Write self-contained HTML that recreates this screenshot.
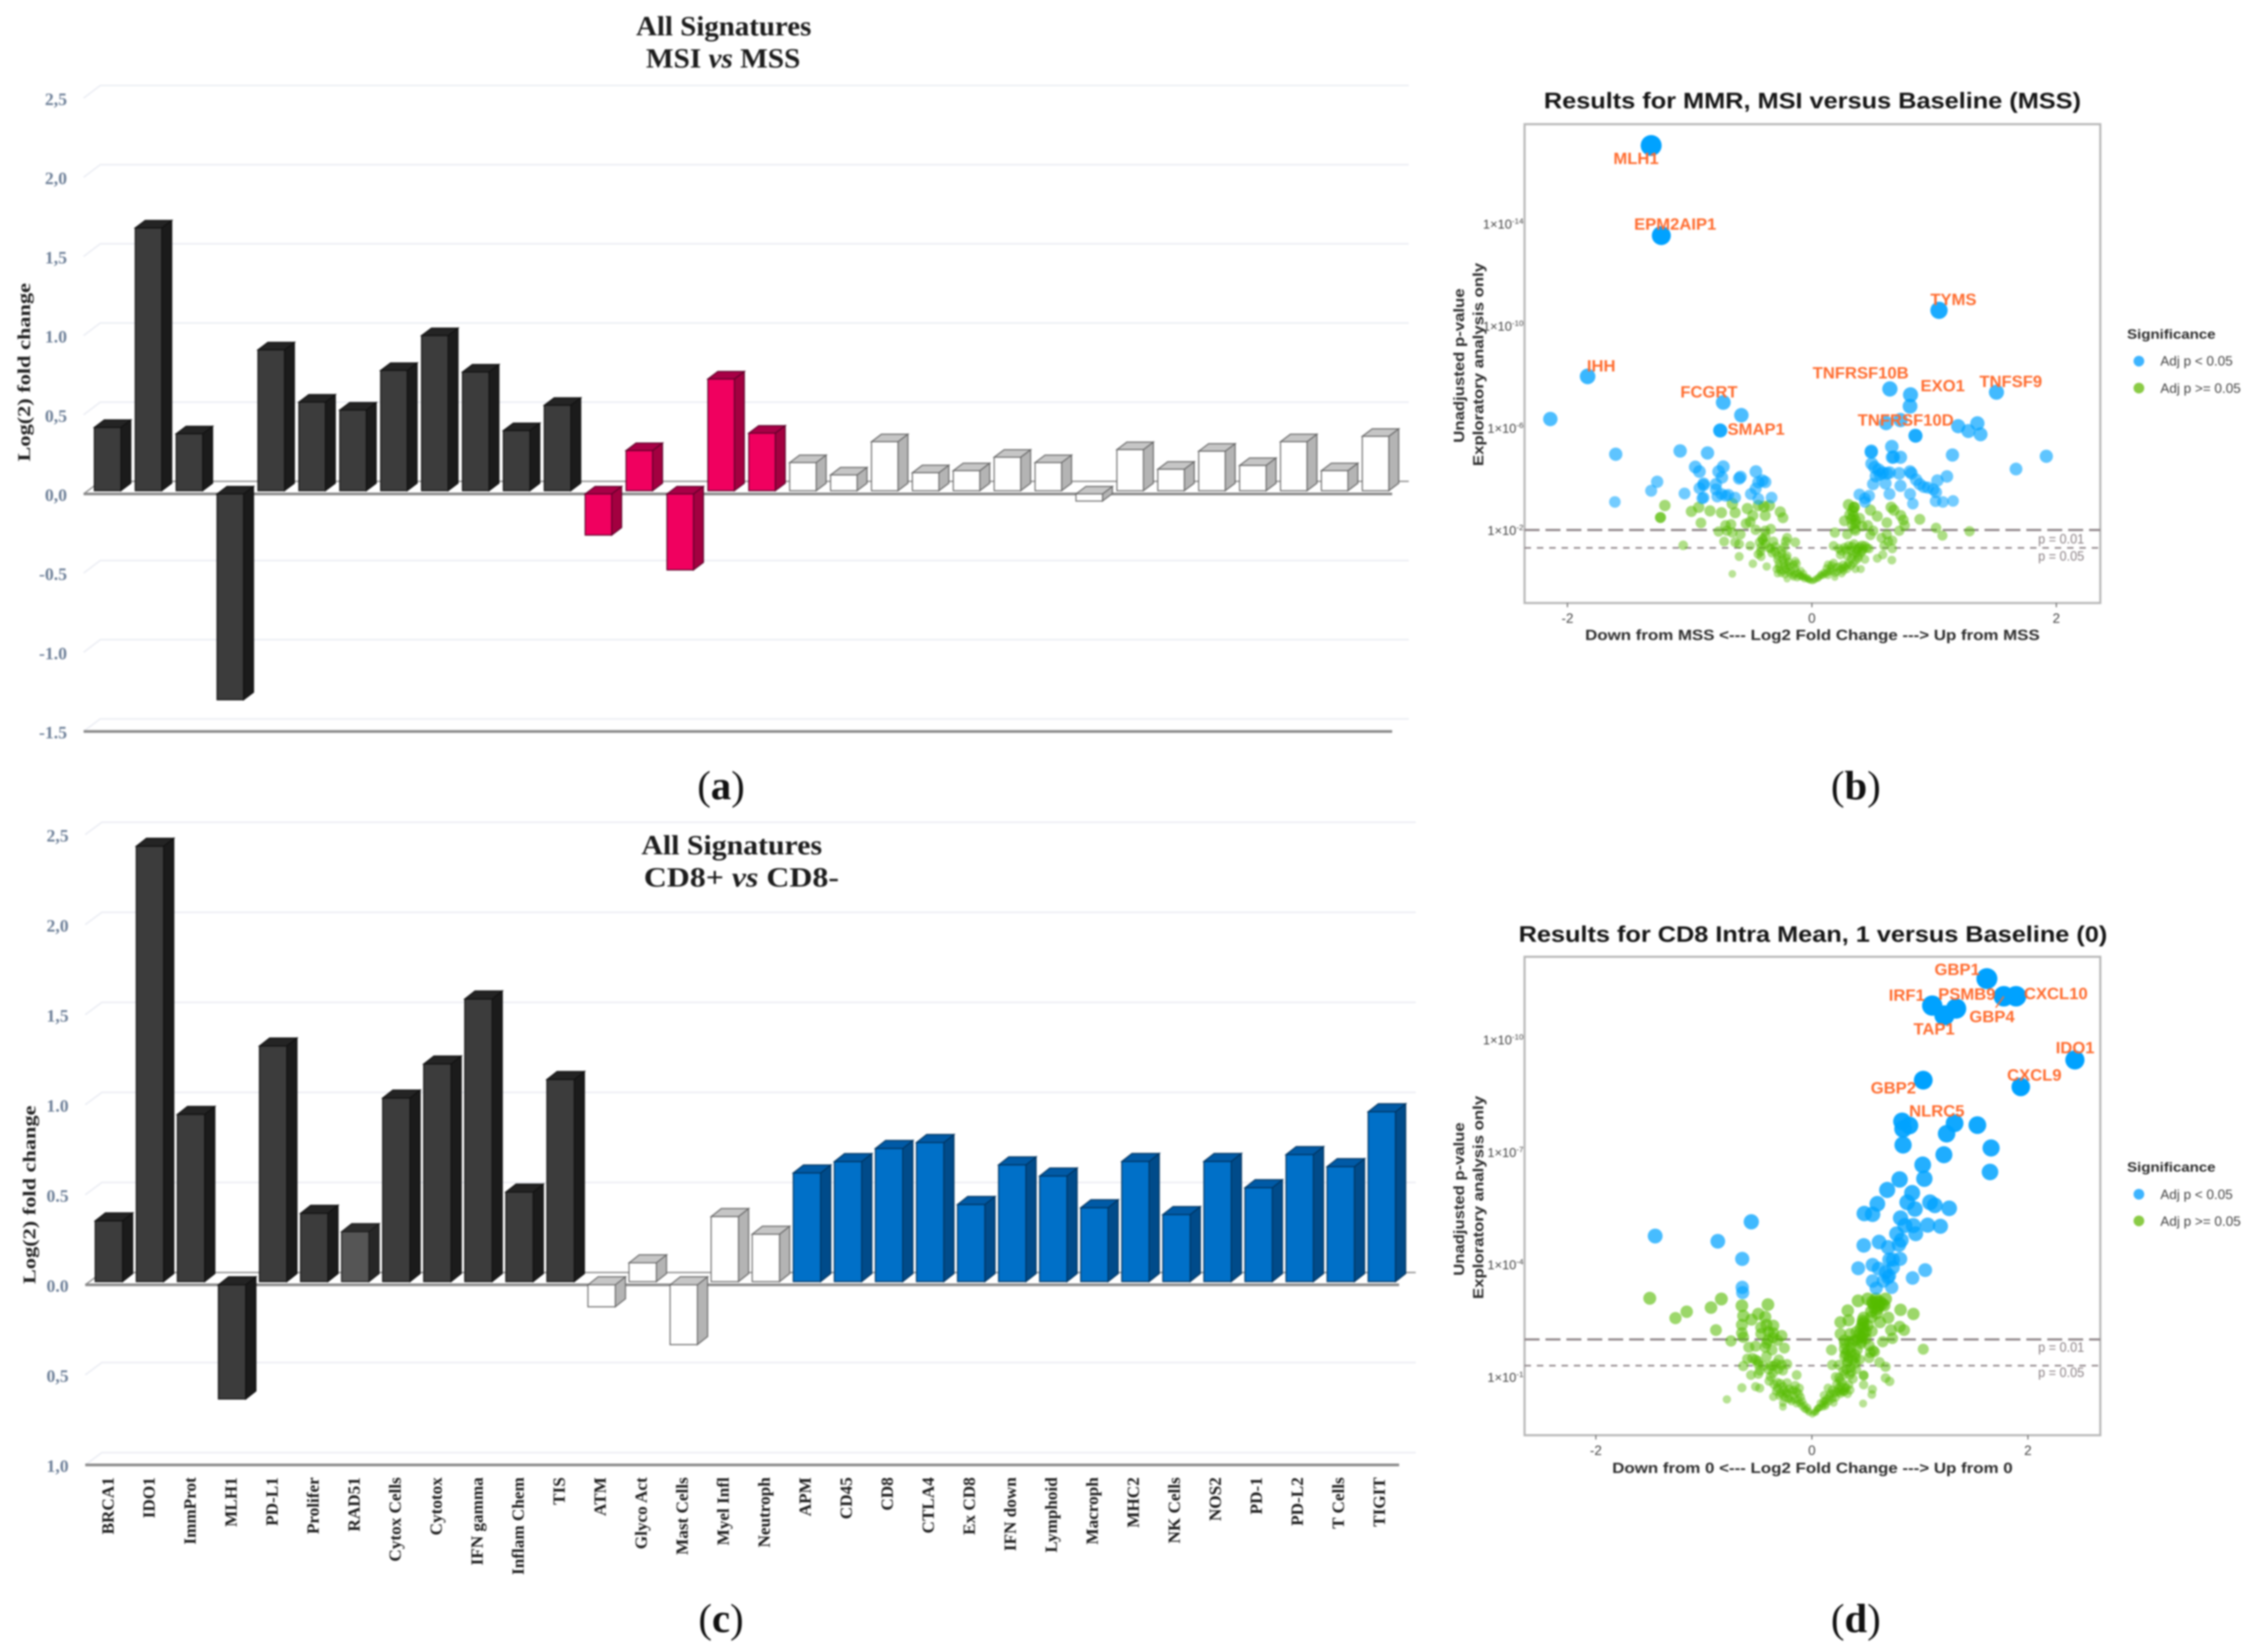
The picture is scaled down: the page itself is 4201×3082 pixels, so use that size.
<!DOCTYPE html>
<html lang="en">
<head>
<meta charset="utf-8">
<title>Signature fold change and volcano plots</title>
<style>
html,body{margin:0;padding:0;background:#fff;}
svg{display:block;filter:blur(1.5px);}
.serif{font-family:"Liberation Serif",serif;}
.sans{font-family:"Liberation Sans",sans-serif;}
.bar-title{font-family:"Liberation Serif",serif;font-weight:bold;font-size:52px;fill:#1c1c1c;text-anchor:middle;}
.panel-label{font-family:"Liberation Serif",serif;font-size:76px;fill:#111;text-anchor:middle;}
.y-title{font-family:"Liberation Serif",serif;font-weight:bold;font-size:34px;fill:#222;text-anchor:middle;}
.v-title{font-family:"Liberation Sans",sans-serif;font-weight:bold;font-size:42px;fill:#151515;text-anchor:middle;}
.v-axis{font-family:"Liberation Sans",sans-serif;font-weight:bold;font-size:28px;fill:#2c2c2c;text-anchor:middle;}
.v-gene{font-family:"Liberation Sans",sans-serif;font-weight:bold;font-size:31px;fill:#ff6c2f;text-anchor:middle;}
.v-legend{font-family:"Liberation Sans",sans-serif;font-size:25px;fill:#444;}
.v-legend-title{font-family:"Liberation Sans",sans-serif;font-weight:bold;font-size:25px;fill:#2c2c2c;}
.v-p{font-family:"Liberation Sans",sans-serif;font-size:25px;fill:#8a8084;}
</style>
</head>
<body>
<svg id="figure" xmlns="http://www.w3.org/2000/svg" width="4201" height="3082" viewBox="0 0 4201 3082">
  <rect x="0" y="0" width="4201" height="3082" fill="#ffffff"/>

  <g id="panel-a">
    <text class="bar-title" x="1350" y="66" textLength="327" lengthAdjust="spacingAndGlyphs">All Signatures</text>
    <text class="bar-title" x="1349" y="126" textLength="288" lengthAdjust="spacingAndGlyphs">MSI <tspan font-style="italic">vs</tspan> MSS</text>
    <text class="y-title" transform="translate(56 694.5) rotate(-90)" textLength="333" lengthAdjust="spacingAndGlyphs">Log(2) fold change</text>
  </g>
  <text class="panel-label" x="1345" y="1491">(<tspan font-weight="bold">a</tspan>)</text>

  <g id="panel-c">
    <text class="bar-title" x="1365" y="1594" textLength="337" lengthAdjust="spacingAndGlyphs">All Signatures</text>
    <text class="bar-title" x="1383" y="1654" textLength="364" lengthAdjust="spacingAndGlyphs">CD8+ <tspan font-style="italic">vs</tspan> CD8-</text>
    <text class="y-title" transform="translate(66 2229) rotate(-90)" textLength="333" lengthAdjust="spacingAndGlyphs">Log(2) fold change</text>
  </g>
  <text class="panel-label" x="1345" y="3045">(<tspan font-weight="bold">c</tspan>)</text>

  <g id="panel-b">
    <text class="v-title" x="3381" y="202" textLength="1002" lengthAdjust="spacingAndGlyphs">Results for MMR, MSI versus Baseline (MSS)</text>
    <text class="v-axis" transform="translate(2731 682) rotate(-90)" textLength="288" lengthAdjust="spacingAndGlyphs">Unadjusted p-value</text>
    <text class="v-axis" transform="translate(2767 680) rotate(-90)" textLength="379" lengthAdjust="spacingAndGlyphs">Exploratory analysis only</text>
    <text class="v-axis" x="3381" y="1194" textLength="848" lengthAdjust="spacingAndGlyphs">Down from MSS &lt;--- Log2 Fold Change ---&gt; Up from MSS</text>
    <text class="v-legend-title" x="3968" y="632" textLength="165" lengthAdjust="spacingAndGlyphs">Significance</text>
    <circle cx="3990" cy="673.7" r="10" fill="#3db4ff"/>
    <text class="v-legend" x="4030" y="682" textLength="135" lengthAdjust="spacingAndGlyphs">Adj p &lt; 0.05</text>
    <circle cx="3990" cy="724" r="10" fill="#8acb45"/>
    <text class="v-legend" x="4030" y="733" textLength="150" lengthAdjust="spacingAndGlyphs">Adj p &gt;= 0.05</text>
    <g id="panel-b-marks"></g>
    <text class="v-p" x="3802" y="1014" textLength="86" lengthAdjust="spacingAndGlyphs">p = 0.01</text>
    <text class="v-p" x="3802" y="1046" textLength="86" lengthAdjust="spacingAndGlyphs">p = 0.05</text>
    <text class="v-gene" x="3052" y="306">MLH1</text>
    <text class="v-gene" x="3125" y="428.6">EPM2AIP1</text>
    <text class="v-gene" x="3644" y="569">TYMS</text>
    <text class="v-gene" x="2987" y="693">IHH</text>
    <text class="v-gene" x="3188" y="741.5">FCGRT</text>
    <text class="v-gene" x="3276" y="811">SMAP1</text>
    <text class="v-gene" x="3471" y="706">TNFRSF10B</text>
    <text class="v-gene" x="3624" y="730">EXO1</text>
    <text class="v-gene" x="3751" y="722">TNFSF9</text>
    <text class="v-gene" x="3555" y="794">TNFRSF10D</text>
  </g>
  <text class="panel-label" x="3462" y="1491">(<tspan font-weight="bold">b</tspan>)</text>

  <g id="panel-d">
    <text class="v-title" x="3382" y="1757" textLength="1098" lengthAdjust="spacingAndGlyphs">Results for CD8 Intra Mean, 1 versus Baseline (0)</text>
    <text class="v-axis" transform="translate(2731 2237) rotate(-90)" textLength="286" lengthAdjust="spacingAndGlyphs">Unadjusted p-value</text>
    <text class="v-axis" transform="translate(2767 2234) rotate(-90)" textLength="379" lengthAdjust="spacingAndGlyphs">Exploratory analysis only</text>
    <text class="v-axis" x="3381" y="2748" textLength="747" lengthAdjust="spacingAndGlyphs">Down from 0 &lt;--- Log2 Fold Change ---&gt; Up from 0</text>
    <text class="v-legend-title" x="3968" y="2186" textLength="165" lengthAdjust="spacingAndGlyphs">Significance</text>
    <circle cx="3990" cy="2228" r="10" fill="#3db4ff"/>
    <text class="v-legend" x="4030" y="2237" textLength="135" lengthAdjust="spacingAndGlyphs">Adj p &lt; 0.05</text>
    <circle cx="3990" cy="2277.7" r="10" fill="#8acb45"/>
    <text class="v-legend" x="4030" y="2287" textLength="150" lengthAdjust="spacingAndGlyphs">Adj p &gt;= 0.05</text>
    <g id="panel-d-marks"></g>
    <text class="v-p" x="3802" y="2522" textLength="86" lengthAdjust="spacingAndGlyphs">p = 0.01</text>
    <text class="v-p" x="3802" y="2569" textLength="86" lengthAdjust="spacingAndGlyphs">p = 0.05</text>
    <line x1="3723" y1="1880" x2="3738" y2="1859" stroke="#ff6c2f" stroke-width="2.5"/>
    <text class="v-gene" x="3651" y="1819">GBP1</text>
    <text class="v-gene" x="3557" y="1867">IRF1</text>
    <text class="v-gene" x="3669" y="1865">PSMB9</text>
    <text class="v-gene" x="3835" y="1864">CXCL10</text>
    <text class="v-gene" x="3716" y="1907">GBP4</text>
    <text class="v-gene" x="3608" y="1930">TAP1</text>
    <text class="v-gene" x="3871" y="1965">IDO1</text>
    <text class="v-gene" x="3795" y="2016">CXCL9</text>
    <text class="v-gene" x="3532" y="2040">GBP2</text>
    <text class="v-gene" x="3613" y="2083">NLRC5</text>
  </g>
  <text class="panel-label" x="3462" y="3045">(<tspan font-weight="bold">d</tspan>)</text>
</svg>

<script>
// ---------- Bar chart data ----------
const signatureCategories = ['BRCA1','IDO1','ImmProt','MLH1','PD-L1','Prolifer','RAD51','Cytox Cells','Cytotox','IFN gamma','Inflam Chem','TIS','ATM','Glyco Act','Mast Cells','Myel Infl','Neutroph','APM','CD45','CD8','CTLA4','Ex CD8','IFN down','Lymphoid','Macroph','MHC2','NK Cells','NOS2','PD-1','PD-L2','T Cells','TIGIT'];
const msiFoldChange = [0.42,1.68,0.38,-1.30,0.91,0.58,0.53,0.78,1.00,0.77,0.40,0.56,-0.26,0.274,-0.48,0.726,0.384,0.198,0.12,0.33,0.134,0.147,0.232,0.198,-0.045,0.28,0.156,0.27,0.18,0.33,0.147,0.364];
const cd8FoldChange = [0.355,2.435,0.946,-0.634,1.326,0.397,0.295,1.037,1.226,1.587,0.515,1.14,-0.122,0.122,-0.332,0.379,0.281,0.621,0.684,0.757,0.79,0.446,0.666,0.604,0.428,0.685,0.39,0.685,0.539,0.723,0.656,0.961];
const msiTickValues = [2.5,2,1.5,1,0.5,0,-0.5,-1,-1.5];
const msiTickLabels = ['2,5','2,0','1,5','1.0','0,5','0,0','-0.5','-1.0','-1.5'];
const cd8TickValues = [2.5,2,1.5,1,0.5,0,-0.5,-1];
const cd8TickLabels = ['2,5','2,0','1,5','1.0','0.5','0.0','0,5','1,0'];

// ---------- Volcano data: [log2 fold change, -log10 p] ----------
const mmrSignificant = [[-1.315,17.07],[-1.315,17.07],[-1.232,13.54],[1.04,10.61],[-1.835,8.02],[-2.14,6.35],[-0.725,7.0],[-0.577,6.5],[-0.75,5.9],[-0.75,5.9],[0.638,7.53],[0.807,7.3],[0.803,6.85],[1.51,7.4],[0.607,6.19],[0.725,6.31],[0.846,5.7],[1.197,6.07],[1.354,6.18],[1.28,5.88],[1.38,5.75],[-1.605,4.97],[-1.078,5.1],[-0.854,5.02],[1.918,4.89],[1.67,4.39],[1.15,4.94],[-0.954,4.47],[-0.92,4.29],[-0.725,4.48],[-0.763,4.29],[-0.736,4.06],[-0.458,4.29],[-0.584,4.08],[-0.595,4.02],[-0.405,3.94],[-0.438,3.87],[-0.382,3.88],[-1.266,3.89],[-1.315,3.54],[-1.042,3.43],[-1.612,3.1],[-0.886,3.76],[-0.886,3.82],[-0.919,3.64],[-0.785,3.8],[-0.785,3.59],[-0.886,3.27],[-0.897,3.24],[-0.774,3.31],[-0.74,3.41],[-0.706,3.34],[-0.684,3.38],[-0.628,3.27],[-0.499,3.41],[-0.46,3.62],[-0.438,3.22],[-0.33,3.27],[0.486,5.09],[0.486,5.05],[0.654,5.27],[0.658,4.85],[0.668,4.86],[0.725,4.85],[0.849,5.69],[0.49,4.6],[0.513,4.46],[0.546,4.36],[0.58,4.25],[0.613,4.22],[0.635,4.25],[0.557,4.18],[0.524,4.11],[0.501,3.8],[0.602,3.83],[0.725,3.73],[0.714,4.22],[0.803,4.29],[0.815,4.22],[0.853,3.97],[0.882,3.8],[0.915,3.69],[0.949,3.66],[0.994,3.59],[1.027,3.94],[1.105,4.1],[1.016,3.48],[0.635,3.41],[0.803,3.41],[0.826,3.03],[1.012,3.13],[1.072,3.1],[1.155,3.14],[0.389,3.39],[0.434,3.24],[0.468,3.34],[0.434,3.1]];
const mmrNotSignificant = [[-1.203,2.96],[-1.239,2.49],[-1.239,2.49],[-0.986,2.73],[-0.926,2.89],[-0.834,2.75],[-0.908,2.28],[-0.74,2.68],[-0.651,3.03],[-0.628,2.68],[-0.528,2.84],[-0.438,2.96],[-0.393,2.92],[-0.348,2.96],[-0.259,2.71],[-0.237,2.48],[-0.382,2.57],[-0.483,2.57],[-0.662,2.22],[-0.707,2.18],[-0.539,2.25],[-0.505,2.32],[-0.763,1.94],[-0.695,1.97],[-0.651,1.9],[-0.46,2.01],[-0.337,2.04],[-0.382,1.97],[-0.584,1.83],[-0.718,1.55],[-0.628,1.52],[-0.595,1.45],[-1.053,1.4],[-0.405,1.66],[-0.427,1.52],[-0.315,1.55],[-0.203,1.69],[-0.136,1.52],[-0.214,1.55],[-0.505,1.38],[-0.416,1.31],[-0.337,1.27],[-0.225,1.34],[-0.595,0.96],[-0.483,0.68],[-0.416,0.96],[-0.37,0.57],[-0.651,0.28],[-0.326,1.1],[-0.247,1.06],[-0.281,0.85],[-0.203,0.99],[-0.136,0.78],[-0.27,0.54],[-0.225,0.57],[-0.181,0.57],[-0.136,0.5],[-0.091,0.4],[-0.069,0.29],[-0.035,0.08],[-0.281,0.29],[-0.203,0.08],[-0.158,0.22],[-0.102,0.19],[-0.236,0.4],[-0.192,0.36],[-0.125,0.68],[-0.08,0.15],[0.005,0],[-0.013,0.02],[0.02,0.03],[0.054,0.15],[0.099,0.33],[0.132,0.64],[0.177,0.71],[0.221,0.57],[0.255,0.64],[0.3,0.71],[0.322,0.89],[0.132,0.22],[0.188,0.15],[0.244,0.29],[0.356,0.47],[0.4,0.47],[0.155,0.5],[0.076,0.26],[0.289,0.47],[0.177,1.38],[0.221,1.27],[0.266,1.31],[0.3,1.38],[0.345,1.45],[0.39,1.34],[0.434,1.38],[0.468,1.27],[0.322,1.2],[0.367,1.24],[0.412,1.17],[0.334,1.03],[0.289,0.99],[0.434,0.85],[0.535,0.89],[0.58,1.03],[0.654,0.82],[0.233,1.03],[0.378,0.99],[0.188,1.9],[0.289,1.83],[0.266,2.36],[0.3,2.99],[0.345,2.89],[0.345,2.89],[0.334,2.75],[0.356,2.39],[0.322,2.43],[0.39,2.46],[0.356,2.25],[0.479,2.78],[0.535,2.54],[0.649,2.89],[0.671,2.78],[0.727,2.57],[0.748,2.39],[0.759,2.18],[0.883,2.42],[0.613,2.29],[0.457,2.18],[0.479,1.8],[0.613,1.83],[0.625,1.55],[0.658,1.59],[1.016,2.08],[1.068,1.78],[1.29,1.95],[0.356,1.97],[0.412,2.15],[0.569,1.69],[0.715,1.97],[0.502,1.97],[0.591,1.38],[0.658,1.27],
[-0.29,0.47],[-0.26,0.43],[-0.21,0.47],[-0.17,0.4],[-0.125,0.36],[-0.25,0.3],[-0.22,0.25],[-0.18,0.3],[-0.14,0.27],[-0.11,0.3],[-0.15,0.15],[-0.12,0.12],[-0.09,0.22],[-0.07,0.18],[-0.05,0.15],[-0.06,0.08],[-0.03,0.12],[-0.025,0.05],[-0.2,0.62],[-0.23,0.72],[-0.19,0.75],[-0.24,0.85],[-0.21,0.9],[-0.27,0.68],[-0.15,0.65],[-0.28,1.0],[-0.3,1.15],[-0.35,1.3],[-0.38,1.45],[-0.4,1.6],[-0.38,1.75],[-0.42,1.15],[-0.44,1.05],[-0.3,1.35],[-0.25,1.2],
[0.03,0.08],[0.05,0.1],[0.07,0.2],[0.09,0.22],[0.11,0.28],[0.13,0.35],[0.15,0.38],[0.17,0.4],[0.19,0.3],[0.21,0.36],[0.23,0.45],[0.25,0.5],[0.27,0.55],[0.29,0.62],[0.32,0.6],[0.34,0.7],[0.2,0.55],[0.16,0.62],[0.12,0.5],[0.26,0.4],[0.36,0.8],[0.38,0.9],[0.4,1.1],[0.36,1.1],[0.42,1.25],[0.45,1.3],[0.33,1.35],[0.28,1.22],[0.24,1.18],[0.38,1.28],[0.41,1.4],[0.31,2.6],[0.33,2.2],[0.35,2.05],[0.34,2.55]];
const cd8Significant = [[1.62,11.63],[1.62,11.63],[1.89,11.16],[1.777,11.16],[1.335,10.83],[1.114,10.91],[1.227,10.65],[2.435,9.46],[1.934,8.74],[1.031,8.92],[0.835,7.82],[0.903,7.71],[0.844,7.62],[0.844,7.19],[1.321,7.77],[1.532,7.72],[1.247,7.49],[1.659,7.11],[1.222,6.93],[1.649,6.47],[1.026,6.66],[1.041,6.29],[0.812,6.27],[0.697,5.99],[0.606,5.62],[0.485,5.36],[0.562,5.34],[0.928,5.91],[0.883,5.66],[0.954,5.48],[1.094,5.66],[1.138,5.58],[1.271,5.5],[0.821,5.24],[0.861,5.04],[0.939,5.04],[1.072,5.05],[1.19,5.02],[0.784,4.82],[0.961,4.82],[0.806,4.53],[0.828,4.65],[0.48,4.51],[0.622,4.6],[0.706,4.46],[0.429,3.9],[0.562,3.99],[0.618,3.89],[0.75,4.13],[0.817,4.15],[0.717,4.13],[0.75,3.92],[0.684,3.8],[0.562,3.56],[0.662,3.56],[0.739,3.39],[0.595,3.37],[1.049,3.85],[0.932,3.64],[-1.451,4.76],[-0.871,4.62],[-0.561,5.14],[-0.645,4.15],[-0.645,3.39],[-0.641,3.25],[0.706,3.65],[0.717,3.7]];
const cd8NotSignificant = [[-1.501,3.1],[-1.159,2.74],[-1.263,2.57],[-0.934,2.85],[-0.838,3.08],[-0.888,2.25],[-0.749,1.96],[-0.648,2.9],[-0.407,2.93],[-0.635,2.63],[-0.496,2.68],[-0.559,2.53],[-0.432,2.6],[-0.648,2.39],[-0.42,2.39],[-0.357,2.37],[-0.648,2.17],[-0.635,2.06],[-0.47,2.32],[-0.47,2.15],[-0.357,2.17],[-0.28,2.1],[-0.407,1.98],[-0.319,1.98],[-0.255,1.77],[-0.584,1.79],[-0.521,1.82],[-0.432,1.79],[-0.369,1.72],[-0.42,1.55],[-0.597,1.48],[-0.521,1.46],[-0.496,1.34],[-0.635,1.29],[-0.306,1.46],[-0.23,1.34],[-0.357,1.29],[-0.483,1.17],[-0.564,1.05],[-0.496,1.08],[-0.382,1.01],[-0.268,1.17],[-0.141,1.05],[-0.395,0.89],[-0.521,0.74],[-0.648,0.71],[-0.483,0.7],[-0.787,0.4],[-0.357,0.47],[-0.268,0.2],[-0.268,0.31],[-0.319,0.7],[-0.268,0.74],[-0.23,0.84],[-0.154,0.77],[-0.116,0.7],[-0.293,0.58],[-0.23,0.55],[-0.167,0.51],[-0.103,0.46],[-0.205,0.41],[-0.141,0.29],[-0.091,0.22],[-0.053,0.12],[-0.027,0.05],[0.005,0],[0.036,0.05],[0.061,0.17],[0.099,0.27],[0.125,0.36],[0.163,0.48],[0.188,0.65],[0.15,0.7],[0.112,0.51],[0.226,0.6],[0.302,0.62],[0.353,0.65],[0.264,0.74],[0.34,0.79],[0.201,0.31],[0.125,0.22],[0.251,0.98],[0.302,1.08],[0.365,1.13],[0.479,1.05],[0.188,1.32],[0.251,1.32],[0.327,1.36],[0.403,1.36],[0.34,1.51],[0.403,1.51],[0.302,1.55],[0.365,1.65],[0.181,1.72],[0.302,1.89],[0.378,1.94],[0.454,1.89],[0.53,1.84],[0.302,1.98],[0.264,2.15],[0.353,2.15],[0.479,2.17],[0.454,2.08],[0.555,2.22],[0.479,2.58],[0.466,2.41],[0.479,2.32],[0.517,2.37],[0.34,2.51],[0.264,2.46],[0.332,2.77],[0.428,3.03],[0.517,3.08],[0.568,2.96],[0.593,3.08],[0.682,3.08],[0.669,2.91],[0.606,2.82],[0.707,2.58],[0.631,2.46],[0.821,2.79],[0.94,2.68],[0.813,2.34],[0.854,2.25],[0.732,2.25],[0.745,2.03],[0.656,1.94],[0.542,1.65],[0.58,1.67],[0.626,1.39],[0.682,1.27],[1.031,1.74],[0.479,1.03],[0.479,0.79],[0.682,0.97],[0.72,0.88],[0.56,0.67],[0.555,0.53],[0.474,0.29],[0.264,0.55],[0.315,0.7],[0.53,1.51],[0.441,1.46],[0.568,1.7],
[-0.35,0.8],[-0.32,0.85],[-0.29,0.82],[-0.26,0.65],[-0.24,0.6],[-0.21,0.68],[-0.19,0.62],[-0.17,0.65],[-0.14,0.6],[-0.12,0.55],[-0.25,0.45],[-0.22,0.42],[-0.19,0.35],[-0.16,0.4],[-0.13,0.38],[-0.11,0.3],[-0.09,0.35],[-0.07,0.25],[-0.07,0.15],[-0.04,0.18],[-0.03,0.1],[-0.33,0.62],[-0.3,0.5],[-0.27,0.52],[-0.4,1.2],[-0.38,1.3],[-0.33,1.35],[-0.31,1.2],[-0.45,1.3],[-0.5,1.42],[-0.55,1.5],[-0.28,1.32],[-0.36,1.1],[-0.42,1.9],[-0.4,2.2],[-0.36,2.05],
[0.02,0.05],[0.04,0.1],[0.05,0.15],[0.07,0.18],[0.08,0.3],[0.1,0.2],[0.11,0.35],[0.13,0.28],[0.14,0.42],[0.16,0.35],[0.17,0.55],[0.19,0.42],[0.2,0.55],[0.22,0.45],[0.24,0.68],[0.23,0.8],[0.25,0.6],[0.27,0.65],[0.29,0.6],[0.31,0.72],[0.33,0.55],[0.28,0.85],[0.26,0.9],[0.22,1.0],[0.29,1.15],[0.32,1.2],[0.35,1.05],[0.38,0.95],[0.41,1.2],[0.36,1.25],[0.33,1.42],[0.38,1.45],[0.4,1.6],[0.42,1.72],[0.36,1.78],[0.33,1.7],[0.31,1.62],[0.3,1.75],[0.35,1.95],[0.4,1.98],[0.43,2.0],[0.46,1.95],[0.5,2.02],[0.44,2.15],[0.41,2.2],[0.47,2.05],[0.47,2.5],[0.48,2.45],[0.5,2.2],[0.45,2.3],[0.55,2.6],[0.6,2.7],[0.62,2.9],[0.65,2.95],[0.58,2.85],[0.55,2.75],[0.63,3.0],[0.6,3.0],[0.56,3.0]];
const mmrXTicks = [-2,0,2];
const mmrYTicks = [14,10,6,2];
const mmrYTickExponents = ['-14','-10','-6','-2'];
const cd8XTicks = [-2,0,2];
const cd8YTicks = [10,7,4,1];
const cd8YTickExponents = ['-10','-7','-4','-1'];

// ---------- Drawing helpers ----------
const SVG_NS = 'http://www.w3.org/2000/svg';
function make(tag, parent, attrs) {
  const node = document.createElementNS(SVG_NS, tag);
  for (const key in attrs) node.setAttribute(key, attrs[key]);
  parent.appendChild(node);
  return node;
}
const barPalettes = {
  dark:  {front:'#3c3c3c', top:'#242424', side:'#1b1b1b', edge:'#111111'},
  soft:  {front:'#555555', top:'#2e2e2e', side:'#262626', edge:'#1a1a1a'},
  pink:  {front:'#f0005f', top:'#a80046', side:'#a30040', edge:'#5c0028'},
  white: {front:'#ffffff', top:'#c6c6c6', side:'#b4b4b4', edge:'#666666'},
  blue:  {front:'#0070c8', top:'#005aa6', side:'#004b8a', edge:'#00335f'}
};
function drawBarChart(group, cfg, values, tickValues, tickLabels, paletteFor, prefix) {
  const yScale = v => cfg.zero - cfg.unit * v;
  const xBar = i => cfg.firstBar + cfg.pitch * i;
  tickValues.forEach((tick, i) => {
    const front = yScale(tick);
    const back = front - cfg.backOffset;
    const isZero = tick === 0;
    const grid = make('path', group, {d:`M${cfg.left} ${front}L${cfg.left+31} ${back}H${cfg.right+31}`, fill:'none', stroke:isZero?'#8c8c8c':'#eceef4', 'stroke-width':isZero?2.5:3});
    
    
    const label = make('text', group, {x:cfg.labelRight, y:front+13, 'text-anchor':'end', 'font-family':'"Liberation Serif",serif', 'font-weight':'bold', 'font-size':33, fill:'#6f8199'});
    
    
    label.textContent = tickLabels[i];
  });
  const zeroLine = make('line', group, {x1:cfg.left, x2:cfg.right, y1:cfg.zero, y2:cfg.zero, stroke:'#8a8a8a', 'stroke-width':5});
  
  
  const axisLine = make('line', group, {x1:cfg.left, x2:cfg.right, y1:yScale(tickValues[tickValues.length-1]), y2:yScale(tickValues[tickValues.length-1]), stroke:'#8a8a8a', 'stroke-width':5});
  
  
  values.forEach((value, i) => {
    const pal = barPalettes[paletteFor(i)];
    const x = xBar(i), w = cfg.barWidth, dx = cfg.depthX, dy = cfg.depthY;
    const top = value >= 0 ? yScale(value) : cfg.zero;
    const bottom = value >= 0 ? cfg.zero - 6 : yScale(value);
    const bar = make('g', group, {});
    
    
    make('polygon', bar, {points:`${x+w},${top} ${x+w+dx},${top-dy} ${x+w+dx},${bottom-dy} ${x+w},${bottom}`, fill:pal.side, stroke:pal.edge, 'stroke-width':2});
    make('polygon', bar, {points:`${x},${top} ${x+dx},${top-dy} ${x+w+dx},${top-dy} ${x+w},${top}`, fill:pal.top, stroke:pal.edge, 'stroke-width':2});
    make('rect', bar, {x:x, y:top, width:w, height:bottom-top, fill:pal.front, stroke:pal.edge, 'stroke-width':2});
  });
}
function drawVolcano(group, cfg, xTicks, yTicks, exponents, insignificant, significant, prefix) {
  const xScale = v => cfg.x0 + cfg.xUnit * v;
  const yScale = p => cfg.y0 - cfg.yUnit * p;
  const box = make('rect', group, {x:cfg.left, y:cfg.top, width:cfg.right-cfg.left, height:cfg.bottom-cfg.top, fill:'#ffffff', stroke:'#b8b8b8', 'stroke-width':4});
  
  
  xTicks.forEach(t => {
    const mark = make('line', group, {x1:xScale(t), x2:xScale(t), y1:cfg.bottom, y2:cfg.bottom+8, stroke:'#666', 'stroke-width':2});
    
    
    const label = make('text', group, {x:xScale(t), y:cfg.bottom+37, 'text-anchor':'middle', 'font-family':'"Liberation Sans",sans-serif', 'font-size':25, fill:'#444'});
    
    
    label.textContent = t;
  });
  yTicks.forEach((t, i) => {
    const label = make('text', group, {x:cfg.left-2, y:yScale(t)+9, 'text-anchor':'end', 'font-family':'"Liberation Sans",sans-serif', 'font-size':24, fill:'#444'});
    
    
    label.textContent = '1\u00d710';
    const sup = make('tspan', label, {'font-size':15, dy:-9});
    sup.textContent = exponents[i];
  });
  [[2,4,'28 11'],[1.30103,3,'12 11']].forEach(spec => {
    const dash = make('line', group, {x1:cfg.left, x2:cfg.right, y1:yScale(spec[0]), y2:yScale(spec[0]), stroke:'#8f8589', 'stroke-width':spec[1], 'stroke-dasharray':spec[2]});
    
    
  });
  const maxP = significant.reduce((m, d) => Math.max(m, d[1]), 0);
  const radius = p => 6 + 13.5 * Math.pow(Math.max(p, 0.01) / maxP, 0.6);
  const alpha = p => Math.min(1, 0.4 + 0.8 * p / maxP);
  insignificant.forEach(d => {
    const dot = make('circle', group, {cx:xScale(d[0]), cy:yScale(d[1]), r:radius(d[1]), fill:'#55bb00', 'fill-opacity':alpha(d[1])});
    
    
  });
  significant.forEach(d => {
    const dot = make('circle', group, {cx:xScale(d[0]), cy:yScale(d[1]), r:radius(d[1]), fill:'#00a2ff', 'fill-opacity':alpha(d[1])});
    
    
  });
}

// ---------- Render ----------
const panelA = document.getElementById('panel-a');
drawBarChart(panelA, {zero:921.5, unit:295.4, backOffset:23.5, left:156, right:2597, labelRight:125, firstBar:176, pitch:76.3, barWidth:49.5, depthX:18.5, depthY:14}, msiFoldChange, msiTickValues, msiTickLabels, i => i < 12 ? 'dark' : i < 17 ? 'pink' : 'white', 'a');

const panelC = document.getElementById('panel-c');
drawBarChart(panelC, {zero:2397, unit:336, backOffset:23, left:159, right:2610, labelRight:128, firstBar:177.6, pitch:76.6, barWidth:51, depthX:19, depthY:15}, cd8FoldChange, cd8TickValues, cd8TickLabels, i => i === 6 ? 'soft' : i < 12 ? 'dark' : i < 17 ? 'white' : 'blue', 'c');

signatureCategories.forEach((name, i) => {
  const cx = 201 + 76.5 * i;
  const label = make('text', panelC, {transform:`translate(${cx+11} 2756) rotate(-90)`, 'text-anchor':'end', 'font-family':'"Liberation Serif",serif', 'font-weight':'bold', 'font-size':32, fill:'#1c1c1c'});
  
  
  label.textContent = name;
});

drawVolcano(document.getElementById('panel-b-marks'), {left:2844, right:3918, top:231.7, bottom:1125, x0:3380, xUnit:228, y0:1084, yUnit:47.6}, mmrXTicks, mmrYTicks, mmrYTickExponents, mmrNotSignificant, mmrSignificant, 'b');
drawVolcano(document.getElementById('panel-d-marks'), {left:2844, right:3918, top:1785, bottom:2677.6, x0:3380, xUnit:201.5, y0:2638.7, yUnit:69.9}, cd8XTicks, cd8YTicks, cd8YTickExponents, cd8NotSignificant, cd8Significant, 'd');
</script>
</body>
</html>
